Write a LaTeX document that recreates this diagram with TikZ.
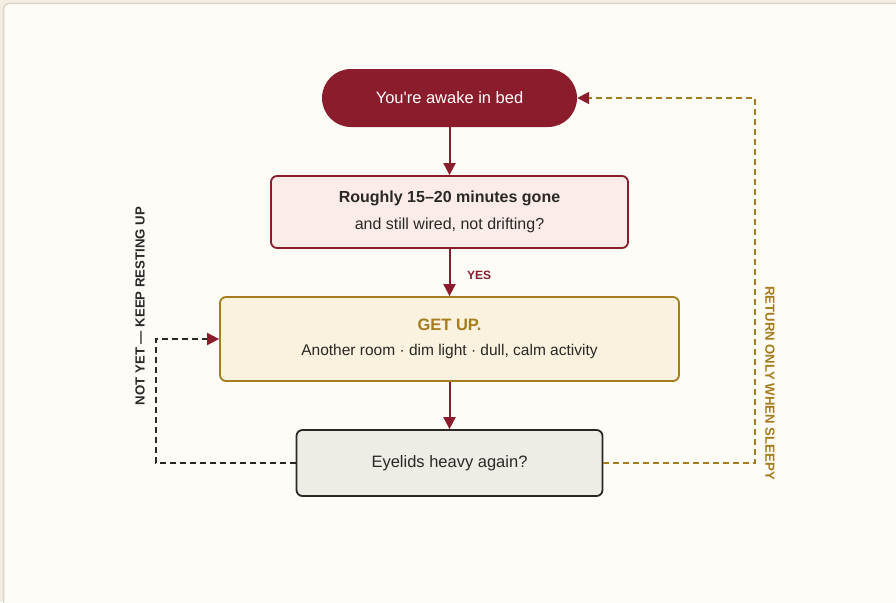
\documentclass[tikz,border=0pt]{standalone}
\usepackage{fontspec}
\setmainfont{Liberation Sans}
\usetikzlibrary{arrows.meta, positioning, calc}
\definecolor{SleepWine}{HTML}{8A1C2B}
\definecolor{SleepRose}{HTML}{FBECE9}
\definecolor{SleepGold}{HTML}{A57C1E}
\definecolor{SleepCream}{HTML}{FAF1DE}
\definecolor{SleepStone}{HTML}{EFECE5}
\definecolor{SleepInk}{HTML}{2A2826}
\definecolor{SleepPaper}{HTML}{FEFCF7}
\definecolor{SleepBand}{HTML}{F4EDE1}
\definecolor{SleepEdge}{HTML}{DCD5C9}

\begin{document}
\begin{tikzpicture}[x=1pt, y=-1pt,
    stepbox/.style={draw, line width=1.8pt, rounded corners=6pt, align=center, text=SleepInk, inner sep=0pt},
    flow/.style={line width=2pt, SleepWine, -{Triangle[length=12pt,width=12pt]}},
    loopback/.style={line width=2pt, dash pattern=on 6pt off 4pt},
    backtip/.style={-{Triangle[length=12pt,width=12pt,fill=SleepWine,color=SleepWine]}},
    sidelabel/.style={font=\fontsize{13.2}{15}\selectfont\bfseries}]
        % Card background
        \useasboundingbox (0,0) rectangle (896,602);
        \fill[SleepBand] (0,0) rectangle (896,602);
        \draw[SleepEdge, fill=SleepPaper, line width=1.5pt, rounded corners=6pt] (3.5,3.5) rectangle (920,630);

        % Steps
        \node[fill=SleepWine, rounded corners=29pt, minimum width=255pt, minimum height=58pt,
              text=white, font=\fontsize{16.5}{19}\selectfont, inner sep=0pt] (awake) at (449.5,98) {You\textquotesingle re awake in bed};
        \node[stepbox, draw=SleepWine, fill=SleepRose, minimum width=357pt, minimum height=72pt,
              font=\fontsize{16}{19}\selectfont] (wired) at (449.5,212)
              {{\bfseries Roughly 15--20 minutes gone}\\[8pt]and still wired, not drifting?};
        \node[stepbox, draw=SleepGold, fill=SleepCream, minimum width=459pt, minimum height=84pt,
              font=\fontsize{15.5}{18}\selectfont] (getup) at (449.5,339)
              {{\fontsize{16.5}{19}\selectfont\bfseries\color{SleepGold}GET UP.}\\[7pt]Another room · dim light · dull, calm activity};
        \node[stepbox, draw=SleepInk, fill=SleepStone, minimum width=306pt, minimum height=66pt,
              font=\fontsize{16.5}{19}\selectfont] (heavy) at (449.5,463) {Eyelids heavy again?};

        % Main flow
        \draw[flow] (awake) -- (wired);
        \draw[flow] (wired) -- (getup);
        \draw[flow] (getup) -- (heavy);
        \node[font=\fontsize{12}{14}\selectfont\bfseries, text=SleepWine] (yes) at (479,275) {YES};

        % Loops back
        \draw[loopback, backtip, SleepInk] (heavy.west) -- ++(-140,0) |- (getup.west);
        \draw[loopback, backtip, SleepGold] (heavy.east) -- ++(152,0) |- (awake.east);
        \node[sidelabel, text=SleepInk, rotate=90] (notyet) at (140,306) {NOT YET — KEEP RESTING UP};
        \node[sidelabel, text=SleepGold, rotate=-90] (sleepy) at (770,383) {RETURN ONLY WHEN SLEEPY};
\end{tikzpicture}
\end{document}
